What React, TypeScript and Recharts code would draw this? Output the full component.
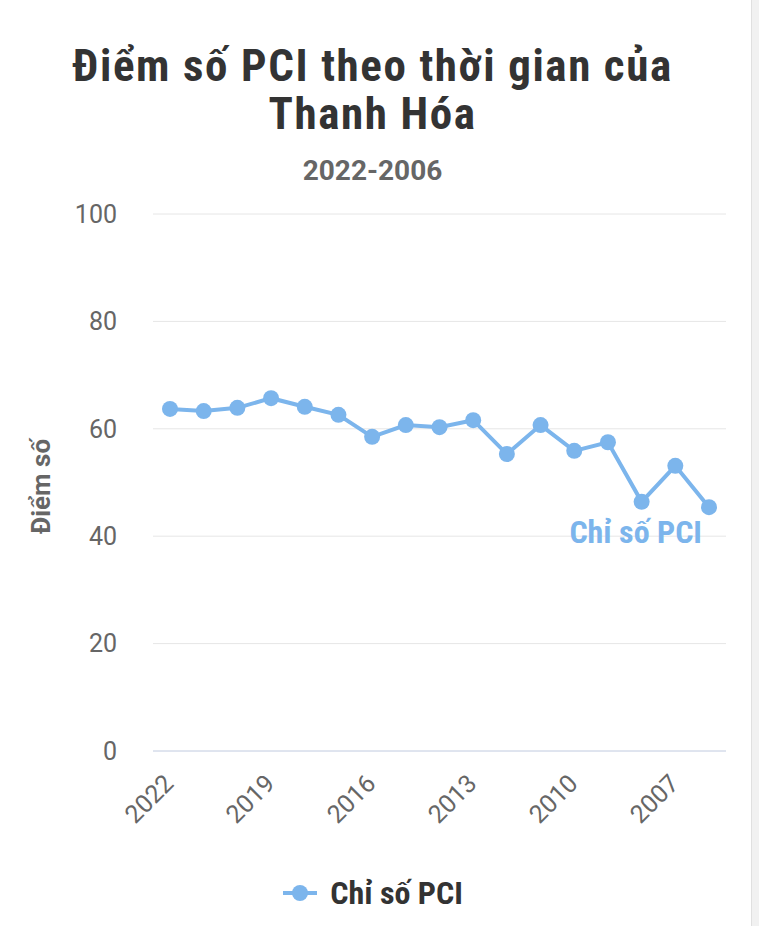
import React from 'react';
import { LineChart, Line, XAxis, YAxis, CartesianGrid, Legend } from 'recharts';

const years = ['2022', '2021', '2020', '2019', '2018', '2017', '2016', '2015', '2014', '2013', '2012', '2011', '2010', '2009', '2008', '2007', '2006'];
const pciScores = [63.7, 63.3, 63.9, 65.7, 64.1, 62.6, 58.5, 60.7, 60.3, 61.6, 55.3, 60.7, 55.9, 57.5, 46.4, 53.1, 45.4];
const yTicks = [0, 20, 40, 60, 80, 100];

const SERIES_NAME = 'Chỉ số PCI';
const LINE_COLOR = '#7cb5ec';
const COND = "'Liberation Sans Narrow', 'Roboto Condensed', Roboto, sans-serif";
const REG = 'Roboto, sans-serif';

const chartData = years.map((year, i) => ({ year, value: pciScores[i] }));

const XTick = (props: any) => {
  const { x, y, payload } = props;
  const tx = x + 5;
  const ty = y + 26;
  return (
    <text x={tx} y={ty} textAnchor="end" fill="#666" fontSize={25} fontFamily={REG} transform={`rotate(-45, ${tx}, ${ty})`}>
      {payload.value}
    </text>
  );
};

const SeriesLabel = (props: any) => {
  const { x, y, index } = props;
  if (index !== chartData.length - 1) return null;
  return (
    <text x={x - 7} y={y + 36} textAnchor="end" fill={LINE_COLOR} fontSize={32} fontWeight="bold" fontFamily={COND}>
      {SERIES_NAME}
    </text>
  );
};

const LegendContent = () => (
  <div style={{ height: 30, display: 'flex', justifyContent: 'center', alignItems: 'center', width: 745 }}>
    <svg width={36} height={20} style={{ marginRight: 12 }}>
      <line x1={1} y1={10} x2={35} y2={10} stroke={LINE_COLOR} strokeWidth={4} />
      <circle cx={18} cy={10} r={8} fill={LINE_COLOR} />
    </svg>
    <span style={{ fontFamily: COND, fontWeight: 'bold', fontSize: 32, color: '#333' }}>{SERIES_NAME}</span>
  </div>
);

const titleStyle: React.CSSProperties = {
  position: 'absolute',
  left: 0,
  width: 745,
  textAlign: 'center',
  fontFamily: COND,
  fontWeight: 'bold',
  fontSize: 45,
  letterSpacing: 1.6,
  lineHeight: '46px',
  color: '#333',
  whiteSpace: 'nowrap',
};

const App: React.FC = () => {
  return (
    <div style={{ position: 'fixed', left: 0, top: 0, width: 759, height: 926, background: '#fff', overflow: 'hidden' }}>
      <div style={{ ...titleStyle, top: 43 }}>Điểm số PCI theo thời gian của</div>
      <div style={{ ...titleStyle, top: 91 }}>Thanh Hóa</div>
      <div style={{ position: 'absolute', left: 0, top: 154, width: 745, textAlign: 'center', fontFamily: REG, fontWeight: 'bold', fontSize: 28, color: '#666' }}>
        2022-2006
      </div>
      <div style={{ position: 'absolute', left: 0, top: 0 }}>
        <LineChart width={759} height={926} data={chartData} margin={{ top: 214, right: 33, bottom: 18, left: 0 }}>
          <CartesianGrid vertical={false} stroke="#e6e6e6" />
          <XAxis
            dataKey="year"
            interval={2}
            tick={<XTick />}
            tickLine={false}
            axisLine={{ stroke: '#ccd6eb' }}
            height={127}
            padding={{ left: 17, right: 17 }}
          />
          <YAxis
            domain={[0, 100]}
            ticks={yTicks}
            width={153}
            tickSize={0}
            tickMargin={36}
            axisLine={false}
            tickLine={false}
            tick={{ fill: '#666', fontSize: 25, fontFamily: REG }}
            label={({ viewBox }: any) => {
              const cy = viewBox.y + viewBox.height / 2 + 4;
              return (
                <text x={50} y={cy} textAnchor="middle" fill="#666" fontSize={26} fontWeight="bold" fontFamily={REG} transform={`rotate(-90, 50, ${cy})`}>
                  Điểm số
                </text>
              );
            }}
          />
          <Legend verticalAlign="bottom" content={<LegendContent />} />
          <Line
            type="linear"
            dataKey="value"
            name={SERIES_NAME}
            stroke={LINE_COLOR}
            strokeWidth={4}
            dot={{ r: 8, fill: LINE_COLOR, stroke: LINE_COLOR, strokeWidth: 0 }}
            activeDot={false}
            label={<SeriesLabel />}
            isAnimationActive={false}
          />
        </LineChart>
      </div>
      <div style={{ position: 'absolute', right: 0, top: 0, width: 7, height: 926, background: '#f1f1f1', borderLeft: '1px solid #e0e0e0' }} />
    </div>
  );
};

export default App;
